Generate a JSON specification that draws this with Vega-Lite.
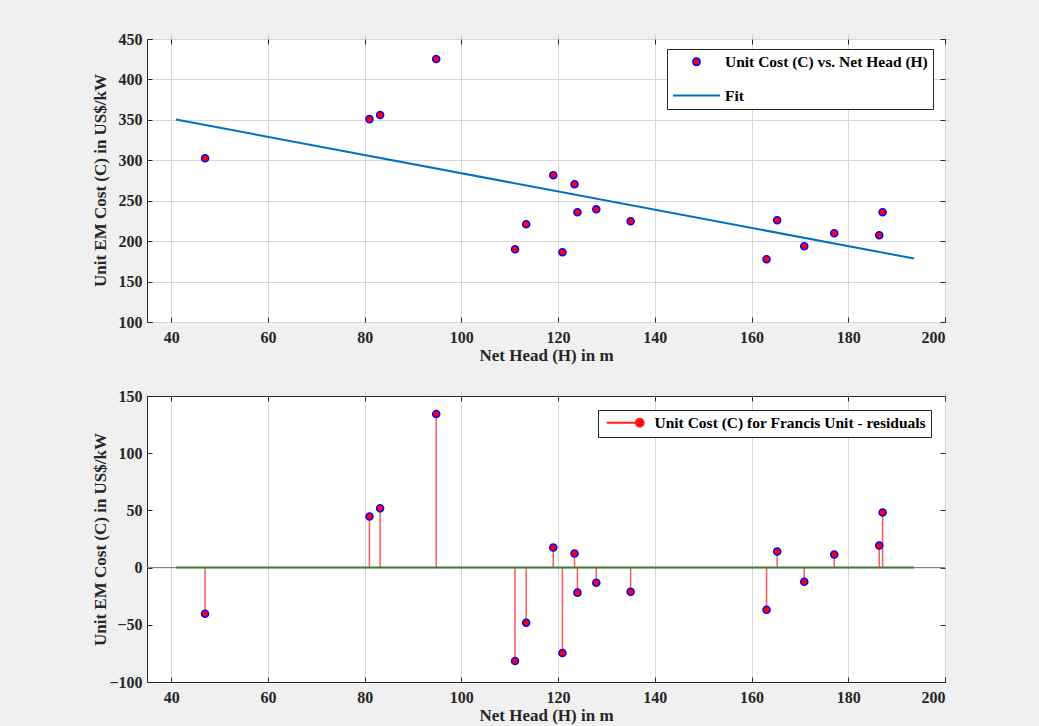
{
  "$schema": "https://vega.github.io/schema/vega-lite/v6.json",
  "background": "#f0f0f0",
  "padding": {"left": 90, "top": 30, "right": 96, "bottom": 6},
  "spacing": 23,
  "resolve": {
    "scale": {"stroke": "independent", "fill": "independent", "shape": "independent", "size": "independent", "x": "independent", "y": "independent"},
    "legend": {"stroke": "independent", "fill": "independent", "shape": "independent", "size": "independent"}
  },
  "datasets": {
    "pts": [
      {"h": 47.0, "c": 302.6, "r": -40.4, "s": "Unit Cost (C) vs. Net Head (H)", "rs": "Unit Cost (C) for Francis Unit - residuals"},
      {"h": 81.0, "c": 350.9, "r": 44.7, "s": "Unit Cost (C) vs. Net Head (H)", "rs": "Unit Cost (C) for Francis Unit - residuals"},
      {"h": 83.2, "c": 355.9, "r": 51.8, "s": "Unit Cost (C) vs. Net Head (H)", "rs": "Unit Cost (C) for Francis Unit - residuals"},
      {"h": 94.8, "c": 425.2, "r": 134.2, "s": "Unit Cost (C) vs. Net Head (H)", "rs": "Unit Cost (C) for Francis Unit - residuals"},
      {"h": 111.1, "c": 190.0, "r": -81.6, "s": "Unit Cost (C) vs. Net Head (H)", "rs": "Unit Cost (C) for Francis Unit - residuals"},
      {"h": 113.4, "c": 220.9, "r": -48.2, "s": "Unit Cost (C) vs. Net Head (H)", "rs": "Unit Cost (C) for Francis Unit - residuals"},
      {"h": 119.0, "c": 281.6, "r": 17.5, "s": "Unit Cost (C) vs. Net Head (H)", "rs": "Unit Cost (C) for Francis Unit - residuals"},
      {"h": 120.9, "c": 186.2, "r": -74.6, "s": "Unit Cost (C) vs. Net Head (H)", "rs": "Unit Cost (C) for Francis Unit - residuals"},
      {"h": 123.4, "c": 270.4, "r": 12.3, "s": "Unit Cost (C) vs. Net Head (H)", "rs": "Unit Cost (C) for Francis Unit - residuals"},
      {"h": 124.0, "c": 235.7, "r": -21.9, "s": "Unit Cost (C) vs. Net Head (H)", "rs": "Unit Cost (C) for Francis Unit - residuals"},
      {"h": 127.9, "c": 239.5, "r": -13.2, "s": "Unit Cost (C) vs. Net Head (H)", "rs": "Unit Cost (C) for Francis Unit - residuals"},
      {"h": 135.0, "c": 224.6, "r": -21.1, "s": "Unit Cost (C) vs. Net Head (H)", "rs": "Unit Cost (C) for Francis Unit - residuals"},
      {"h": 163.1, "c": 177.5, "r": -36.8, "s": "Unit Cost (C) vs. Net Head (H)", "rs": "Unit Cost (C) for Francis Unit - residuals"},
      {"h": 165.3, "c": 225.8, "r": 14.0, "s": "Unit Cost (C) vs. Net Head (H)", "rs": "Unit Cost (C) for Francis Unit - residuals"},
      {"h": 170.9, "c": 193.6, "r": -12.3, "s": "Unit Cost (C) vs. Net Head (H)", "rs": "Unit Cost (C) for Francis Unit - residuals"},
      {"h": 177.1, "c": 209.7, "r": 11.4, "s": "Unit Cost (C) vs. Net Head (H)", "rs": "Unit Cost (C) for Francis Unit - residuals"},
      {"h": 186.4, "c": 207.3, "r": 19.3, "s": "Unit Cost (C) vs. Net Head (H)", "rs": "Unit Cost (C) for Francis Unit - residuals"},
      {"h": 187.1, "c": 235.7, "r": 48.2, "s": "Unit Cost (C) vs. Net Head (H)", "rs": "Unit Cost (C) for Francis Unit - residuals"}
    ],
    "fit": [
      {"h": 41.0, "c": 350.5, "r": 0, "s": "Fit"},
      {"h": 193.6, "c": 178.5, "r": 0, "s": "Fit"}
    ]
  },
  "config": {
    "font": "Liberation Serif",
    "view": {"stroke": "#262626", "strokeWidth": 1, "fill": "white"},
    "axis": {
      "labelFont": "Liberation Serif", "labelFontWeight": "bold", "labelFontSize": 16, "labelColor": "#262626",
      "titleFont": "Liberation Serif", "titleFontWeight": "bold", "titleFontSize": 17, "titleColor": "#262626",
      "gridColor": "#d7d7d7", "gridWidth": 1, "domain": false,
      "ticks": true, "tickSize": 5, "tickColor": "#262626", "tickWidth": 1, "offset": -5
    },
    "axisX": {"labelPadding": 7, "titlePadding": 2},
    "axisY": {"labelPadding": 5},
    "legend": {
      "orient": "none", "strokeColor": "#262626", "fillColor": "white", "padding": 5,
      "labelFont": "Liberation Serif", "labelFontWeight": "bold", "labelFontSize": 15.5, "labelColor": "#000000",
      "labelLimit": 500, "rowPadding": -14, "symbolStrokeWidth": 1.8, "symbolOpacity": 1
    }
  },
  "vconcat": [
    {
      "width": 798, "height": 283,
      "resolve": {"axis": {"x": "independent", "y": "independent"}},
      "layer": [
        {
          "data": {"name": "fit"},
          "mark": {"type": "line", "strokeWidth": 2},
          "encoding": {
            "x": {"field": "h", "type": "quantitative", "scale": {"domain": [35, 200], "nice": false},
                  "axis": {"values": [40, 60, 80, 100, 120, 140, 160, 180, 200], "title": "Net Head (H) in m"}},
            "y": {"field": "c", "type": "quantitative", "scale": {"domain": [100, 450], "nice": false},
                  "axis": {"values": [100, 150, 200, 250, 300, 350, 400, 450], "title": "Unit EM Cost (C) in US$/kW",
                           "titleX": -52, "titleY": 141, "titleBaseline": "middle"}},
            "stroke": {"field": "s", "type": "nominal",
                       "scale": {"domain": ["Unit Cost (C) vs. Net Head (H)", "Fit"], "range": ["blue", "#0072BD"]},
                       "legend": {"title": null, "legendX": 520, "legendY": 10, "labelOffset": 4}}
          }
        },
        {
          "data": {"name": "pts"},
          "mark": {"type": "point", "filled": true, "strokeWidth": 1.5, "opacity": 1},
          "encoding": {
            "x": {"field": "h", "type": "quantitative",
                  "axis": {"orient": "top", "values": [40, 60, 80, 100, 120, 140, 160, 180, 200], "labels": false, "grid": false, "title": null}},
            "y": {"field": "c", "type": "quantitative",
                  "axis": {"orient": "right", "values": [100, 150, 200, 250, 300, 350, 400, 450], "labels": false, "grid": false, "title": null}},
            "stroke": {"field": "s", "type": "nominal"},
            "fill": {"field": "s", "type": "nominal",
                     "scale": {"domain": ["Unit Cost (C) vs. Net Head (H)", "Fit"], "range": ["red", "transparent"]},
                     "legend": {"title": null}},
            "shape": {"field": "s", "type": "nominal",
                      "scale": {"domain": ["Unit Cost (C) vs. Net Head (H)", "Fit"], "range": ["circle", "stroke"]},
                      "legend": {"title": null}},
            "size": {"field": "s", "type": "nominal",
                     "scale": {"type": "ordinal", "domain": ["Unit Cost (C) vs. Net Head (H)", "Fit"], "range": [50, 2209]},
                     "legend": {"title": null}}
          }
        }
      ]
    },
    {
      "width": 798, "height": 286,
      "resolve": {"axis": {"x": "independent", "y": "independent"}},
      "layer": [
        {
          "data": {"name": "fit"},
          "mark": {"type": "rule", "color": "#808080", "strokeWidth": 1},
          "encoding": {"y": {"datum": 0, "type": "quantitative", "axis": null}}
        },
        {
          "data": {"name": "pts"},
          "mark": {"type": "rule", "strokeWidth": 1.5, "opacity": 0.75},
          "encoding": {
            "x": {"field": "h", "type": "quantitative", "scale": {"domain": [35, 200], "nice": false},
                  "axis": {"values": [40, 60, 80, 100, 120, 140, 160, 180, 200], "title": "Net Head (H) in m"}},
            "y": {"field": "r", "type": "quantitative", "scale": {"domain": [-100, 150], "nice": false},
                  "axis": {"values": [-100, -50, 0, 50, 100, 150], "title": "Unit EM Cost (C) in US$/kW",
                           "titleX": -52, "titleY": 143, "titleBaseline": "middle"}},
            "y2": {"datum": 0},
            "stroke": {"field": "rs", "type": "nominal",
                       "scale": {"domain": ["Unit Cost (C) for Francis Unit - residuals"], "range": ["#ff2020"]},
                       "legend": {"title": null, "legendX": 451, "legendY": 14, "symbolSize": 64, "labelOffset": 36,
                                  "symbolType": "M-1,0H7.25M8.25,0A1,1,0,1,1,6.25,0A1,1,0,1,1,8.25,0"}}
          }
        },
        {
          "data": {"name": "fit"},
          "mark": {"type": "line", "color": "#3b7f3b", "strokeWidth": 2},
          "encoding": {
            "x": {"field": "h", "type": "quantitative", "axis": null},
            "y": {"field": "r", "type": "quantitative", "axis": null}
          }
        },
        {
          "data": {"name": "pts"},
          "mark": {"type": "point", "filled": true, "stroke": "blue", "size": 50, "strokeWidth": 1.5, "opacity": 1},
          "encoding": {
            "x": {"field": "h", "type": "quantitative",
                  "axis": {"orient": "top", "values": [40, 60, 80, 100, 120, 140, 160, 180, 200], "labels": false, "grid": false, "title": null}},
            "y": {"field": "r", "type": "quantitative",
                  "axis": {"orient": "right", "values": [-100, -50, 0, 50, 100, 150], "labels": false, "grid": false, "title": null}},
            "fill": {"field": "rs", "type": "nominal",
                     "scale": {"domain": ["Unit Cost (C) for Francis Unit - residuals"], "range": ["red"]},
                     "legend": {"title": null}}
          }
        }
      ]
    }
  ]
}
